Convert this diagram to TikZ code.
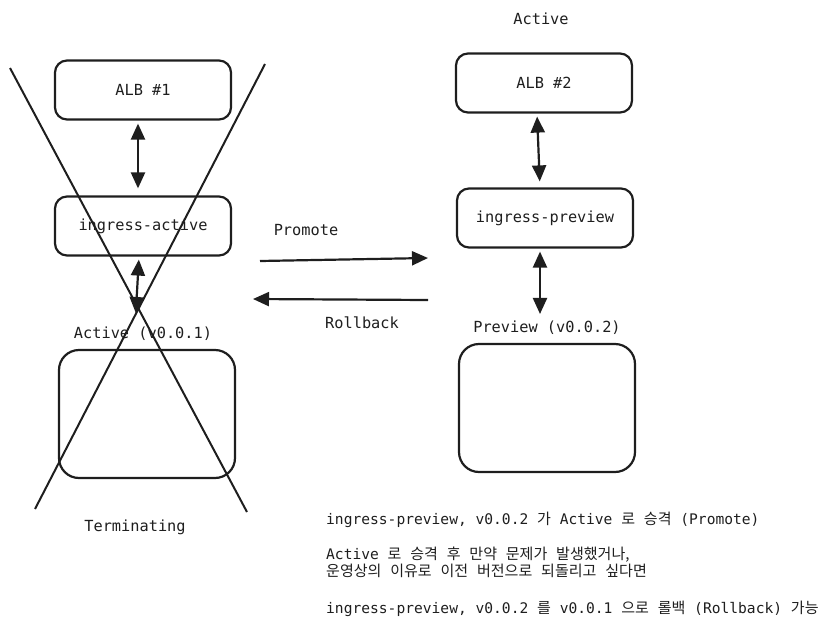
\documentclass[tikz,border=0pt]{standalone}
\usepackage{fontspec}
\setmonofont{DejaVu Sans Mono}
\newfontfamily\krfont[Scale=1.03]{Noto Sans CJK KR}
\newcommand{\kr}[1]{{\krfont #1}}
\usepackage{tikz}
\usetikzlibrary{arrows.meta, positioning}
\definecolor{inkgray}{RGB}{30, 30, 30}

\begin{document}
\begin{tikzpicture}[
    x=1pt, y=-1pt,
    box/.style={rectangle, rounded corners=12pt, draw=inkgray, line width=2.2pt, minimum width=176pt, minimum height=59pt, font=\ttfamily\fontsize{15.3}{18}\selectfont, text=inkgray},
    podbox/.style={box, minimum height=128pt, rounded corners=20pt},
    lbltext/.style={font=\ttfamily\fontsize{15.3}{18}\selectfont, text=inkgray, inner sep=0pt},
    arrow/.style={-{Triangle[length=16pt, width=14pt]}, line width=2.2pt, inkgray},
    twoway/.style={{Triangle[length=16pt, width=14pt]}-{Triangle[length=16pt, width=14pt]}, line width=2.2pt, inkgray},
    cross/.style={line width=2pt, inkgray}
]
\useasboundingbox (0,0) rectangle (833,629);

% Old (terminating) side
\node[box] (alb1) at (143,90) {ALB \#1};
\node[box] (ingact) at (143,226) {ingress-active};
\node[lbltext] (actlbl) at (143,334) {Active (v0.0.1)};
\node[podbox] (pod1) at (147,414) {};
\node[lbltext] (termlbl) at (135,527) {Terminating};

% New (preview) side
\node[lbltext] (toplbl) at (541,19) {Active};
\node[box] (alb2) at (544,83) {ALB \#2};
\node[box] (ingprev) at (545,218) {ingress-preview};
\node[lbltext] (prevlbl) at (547,328) {Preview (v0.0.2)};
\node[podbox] (pod2) at (547,408) {};

% Links
\draw[twoway, shorten <=3pt, shorten >=7pt] ([xshift=-5pt]alb1.south) -- ([xshift=-5pt]ingact.north);
\draw[twoway, shorten <=3pt, shorten >=14pt] ([xshift=-4pt]ingact.south) -- ([xshift=-8pt]actlbl.north);
\draw[twoway, shorten <=3pt, shorten >=6pt] ([xshift=-7pt]alb2.south) -- ([xshift=-5pt]ingprev.north);
\draw[twoway, shorten <=3pt, shorten >=7pt] ([xshift=-5pt]ingprev.south) -- ([xshift=-7pt]prevlbl.north);

% Promote / Rollback
\coordinate (promoteA) at (260,261);
\coordinate (promoteB) at (428,258);
\coordinate (rollA) at (428,300);
\coordinate (rollB) at (253,299);
\draw[arrow] (promoteA) -- (promoteB);
\draw[arrow] (rollA) -- (rollB);
\node[lbltext] (promotelbl) at (306,230) {Promote};
\node[lbltext] (rollbacklbl) at (362,323) {Rollback};

% Cross over the old side
\coordinate (crossA1) at (10,68);
\coordinate (crossA2) at (247,512);
\coordinate (crossB1) at (265,64);
\coordinate (crossB2) at (35,509);
\draw[cross] (crossA1) -- (crossA2);
\draw[cross] (crossB1) -- (crossB2);

% Notes
\node[lbltext, anchor=north west, align=left, font=\ttfamily\fontsize{14.6}{17}\selectfont] (notes) at (326,512) {
    ingress-preview, v0.0.2 \kr{가} Active \kr{로} \kr{승격} (Promote)\\[18pt]
    Active \kr{로} \kr{승격} \kr{후} \kr{만약} \kr{문제가} \kr{발생했거나,}\\
    \kr{운영상의} \kr{이유로} \kr{이전} \kr{버전으로} \kr{되돌리고} \kr{싶다면}\\[20pt]
    ingress-preview, v0.0.2 \kr{를} v0.0.1 \kr{으로} \kr{롤백} (Rollback) \kr{가능}
};

\end{tikzpicture}
\end{document}
